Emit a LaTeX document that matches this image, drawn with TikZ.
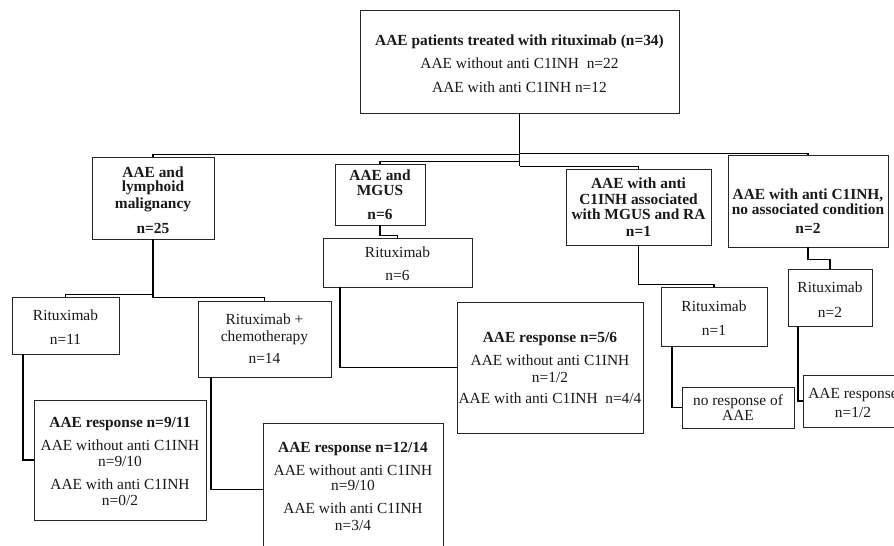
\documentclass[tikz,border=0pt]{standalone}
\usepackage{fontspec}
\setmainfont{Liberation Serif}
\newcommand\fs{\fontsize{15.4}{16}\selectfont}
\newcommand\mybox[5]{\node[box, minimum width={(#4-#2)*1pt}, minimum height={(#5-#3)*1pt}] (#1) at ({(#2+#4)/2},{(#3+#5)/2}) {};}
\tikzset{
  box/.style={draw=black!85, line width=0.9pt, inner sep=0pt},
  txt/.style={align=center, inner sep=0pt, font=\fs, text=black!90},
  btxt/.style={txt, font=\fs\bfseries},
  conn/.style={draw=black, line width=1.2pt},
  trunk/.style={draw=black, line width=1.7pt},
}
\begin{document}
\begin{tikzpicture}[x=1pt,y=-1pt]
\useasboundingbox (0,0) rectangle (894,546);
\fill[white] (0,0) rectangle (894,546);
\clip (0,0) rectangle (894,546);
% boxes
\mybox{top}{360}{10}{679}{113}
\mybox{b1}{92}{157}{214}{239}
\mybox{b2}{335}{164}{425}{225}
\mybox{b3}{566}{169}{711}{245}
\mybox{b4}{728}{155}{888}{247}
\mybox{r6}{323}{238}{472}{287}
\mybox{q56}{457}{302}{643}{433}
\mybox{r11}{12}{297}{119}{354}
\mybox{rc}{198}{301}{331}{377}
\mybox{q911}{34}{400}{206}{520}
\mybox{q1214}{263}{423}{443}{556}
\mybox{r1}{661}{287}{767}{346}
\mybox{nr}{682}{387}{794}{428}
\mybox{r2}{788}{269}{872}{326}
\mybox{q12}{803}{375}{905}{427}
% texts
\node[txt] (topt) at (519.5,63.5) {\textbf{AAE patients treated with rituximab (n=34)}\\[7pt]AAE without anti C1INH\ \ n=22\\[8pt]AAE with anti C1INH n=12};
\node[btxt] (b1t) at (153,200) {AAE and\\[-2pt]lymphoid\\[1pt]malignancy\\[9pt]n=25};
\node[btxt] (b2t) at (380,194.5) {AAE and\\[-1pt]MGUS\\[8pt]n=6};
\node[btxt] (b3t) at (638.5,207) {AAE with anti\\C1INH associated\\[-1pt]with MGUS and RA\\[1pt]n=1};
\node[btxt] (b4t) at (808,211) {AAE with anti C1INH,\\[-1pt]no associated condition\\[3pt]n=2};
\node[txt] (r6t) at (397.5,263.5) {Rituximab\\[7pt]n=6};
\node[txt] (q56t) at (550,367.5) {\textbf{AAE response n=5/6}\\[7pt]AAE without anti C1INH\\[1pt]n=1/2\\[5pt]AAE with anti C1INH\ \ n=4/4};
\node[txt] (r11t) at (65.5,327) {Rituximab\\[8pt]n=11};
\node[txt] (rct) at (264.5,338.5) {Rituximab +\\[1pt]chemotherapy\\[6pt]n=14};
\node[txt] (q911t) at (120,461) {\textbf{AAE response n=9/11}\\[7pt]AAE without anti C1INH\\n=9/10\\[7pt]AAE with anti C1INH\\n=0/2};
\node[txt] (q1214t) at (353,486) {\textbf{AAE response n=12/14}\\[7pt]AAE without anti C1INH\\[-1pt]n=9/10\\[7pt]AAE with anti C1INH\\[1pt]n=3/4};
\node[txt] (r1t) at (714,318) {Rituximab\\[8pt]n=1};
\node[txt] (nrt) at (738,407.5) {no response of\\[-1pt]AAE};
\node[txt] (r2t) at (830,299.5) {Rituximab\\[9pt]n=2};
\node[txt] (q12t) at (853,402.5) {AAE response\\[3pt]n=1/2};
% connectors
\draw[trunk] (top.south) -- ++(0,53);
\draw[conn] (top.south) ++(0,41) -| (b1.north);
\draw[conn] (top.south) ++(0,48) -| (b2.north);
\draw[conn] (top.south) ++(0,40) -| (b4.north);
\draw[conn] (top.south) ++(0,53) -| (b3.north);
\draw[conn] (b2.south) -- ++(0,10) -| (r6.north);
\draw[conn] (340,0 |- r6.south) |- (q56.west);
\draw[conn] (b1.south) -- ++(0,55) -| (r11.north);
\draw[conn] (b1.south) -- ++(0,58) -| (rc.north);
\draw[conn] (23,0 |- r11.south) |- (q911.west);
\draw[conn] (211,0 |- rc.south) |- (q1214.west);
\draw[conn] (b3.south) -- ++(0,39) -| (r1.north);
\draw[conn] (672,0 |- r1.south) |- (nr.west);
\draw[conn] (b4.south) -- ++(0,12) -| (r2.north);
\draw[conn] (798,0 |- r2.south) |- (q12.west);
\end{tikzpicture}
\end{document}
